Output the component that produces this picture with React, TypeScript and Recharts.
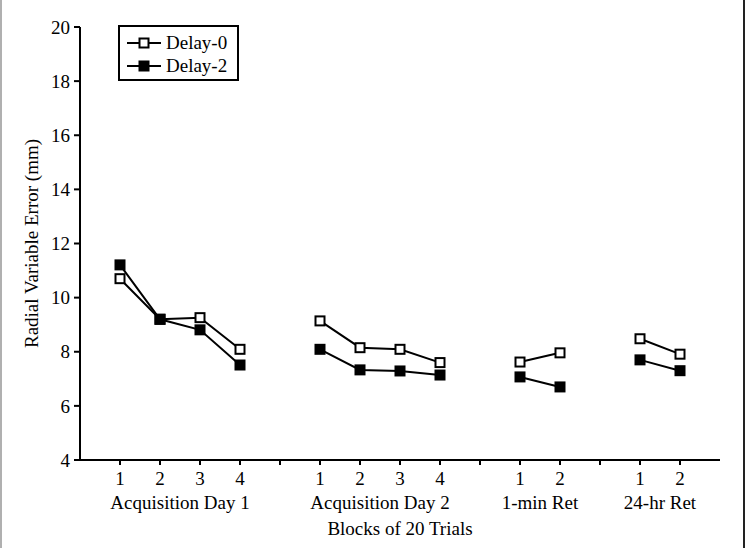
import React from 'react';
import { LineChart, Line, XAxis, YAxis, Legend } from 'recharts';

const groupNames = ['Acquisition Day 1', 'Acquisition Day 2', '1-min Ret', '24-hr Ret'];
const blockLabels = [['1', '2', '3', '4'], ['1', '2', '3', '4'], ['1', '2'], ['1', '2']];
const delay0 = [[10.7, 9.2, 9.26, 8.09], [9.14, 8.15, 8.09, 7.6], [7.62, 7.96], [8.48, 7.91]];
const delay2 = [[11.21, 9.2, 8.81, 7.51], [8.09, 7.33, 7.29, 7.14], [7.07, 6.7], [7.7, 7.3]];
const seriesNames = ['Delay-0', 'Delay-2'];
const yTicks = [4, 6, 8, 10, 12, 14, 16, 18, 20];

const FONT = '"Liberation Serif", "Times New Roman", serif';
const markerFills = ['#fff', '#000'];

type Row = { slot: number; label: string; d0: number | null; d2: number | null };

// one slot per block, with an empty slot between the groups
const rows: Row[] = [];
const groupCenters: number[] = [];
let slot = 1;
groupNames.forEach((_, g) => {
  const start = slot;
  blockLabels[g].forEach((b, i) => {
    rows.push({ slot, label: b, d0: delay0[g][i], d2: delay2[g][i] });
    slot++;
  });
  groupCenters.push((start + slot - 1) / 2);
  if (g < groupNames.length - 1) {
    rows.push({ slot, label: '', d0: null, d2: null });
    slot++;
  }
});
const slotTicks = rows.map(r => r.slot);
const lastSlot = slot;

const squareDot = (fill: string) => (props: any) => {
  const { cx, cy, key } = props;
  if (cx == null || cy == null || props.value == null) return <g key={key} />;
  return <rect key={key} x={cx - 4.5} y={cy - 4.5} width={9} height={9} fill={fill} stroke="#000" strokeWidth={2} />;
};

const LegendBox = () => (
  <div style={{ border: '2px solid #000', padding: '4px 10px 2px 7px', background: '#fff', fontFamily: FONT, fontSize: 19, color: '#000' }}>
    {seriesNames.map((n, i) => (
      <div key={n} style={{ display: 'flex', alignItems: 'center', height: 23 }}>
        <svg width={34} height={14}>
          <line x1={0} y1={7} x2={34} y2={7} stroke="#000" strokeWidth={2} />
          <rect x={12.5} y={2.5} width={9} height={9} fill={markerFills[i]} stroke="#000" strokeWidth={2} />
        </svg>
        <span style={{ marginLeft: 5 }}>{n}</span>
      </div>
    ))}
  </div>
);

const tickStyle = { fill: '#000', fontSize: 19, fontFamily: FONT };

export default function App() {
  return (
    <div style={{ position: 'absolute', left: 0, top: 0, width: 747, height: 548, background: '#fff' }}>
      <div style={{ position: 'absolute', left: 0, top: 0, width: 2, height: 548, background: '#b0b0b0' }} />
      <div style={{ position: 'absolute', left: 743, top: 0, width: 2, height: 548, background: '#222' }} />
      <LineChart width={747} height={548} data={rows} margin={{ top: 27, right: 27, bottom: 8, left: 0 }}>
        <XAxis
          dataKey="slot"
          type="number"
          domain={[0, lastSlot]}
          ticks={slotTicks}
          interval={0}
          tickFormatter={(v: number) => rows.find(r => r.slot === v)?.label ?? ''}
          height={30}
          tickSize={5}
          tickMargin={7}
          tick={tickStyle}
          axisLine={{ stroke: '#000', strokeWidth: 2 }}
          tickLine={{ stroke: '#000', strokeWidth: 2 }}
        />
        <XAxis
          xAxisId="group"
          dataKey="slot"
          type="number"
          domain={[0, lastSlot]}
          ticks={groupCenters}
          interval={0}
          tickFormatter={(v: number) => groupNames[groupCenters.indexOf(v)] ?? ''}
          height={50}
          tickSize={0}
          tickMargin={6}
          tick={tickStyle}
          axisLine={false}
          tickLine={false}
          label={{ value: 'Blocks of 20 Trials', position: 'insideBottom', offset: 5, style: { fill: '#000', fontSize: 19, fontFamily: FONT } }}
        />
        <YAxis
          domain={[4, 20]}
          ticks={yTicks}
          interval={0}
          width={80}
          tickSize={6}
          tickMargin={4}
          tick={tickStyle}
          axisLine={{ stroke: '#000', strokeWidth: 2 }}
          tickLine={{ stroke: '#000', strokeWidth: 2 }}
          label={{ value: 'Radial Variable Error (mm)', angle: -90, position: 'insideLeft', offset: 31, style: { textAnchor: 'middle', fill: '#000', fontSize: 19, fontFamily: FONT } }}
        />
        <Legend
          content={<LegendBox />}
          layout="horizontal"
          verticalAlign="middle"
          align="center"
          wrapperStyle={{ left: 118, top: 25, width: 'auto' }}
        />
        <Line dataKey="d0" name={seriesNames[0]} stroke="#000" strokeWidth={2} dot={squareDot(markerFills[0])} activeDot={false} connectNulls={false} isAnimationActive={false} />
        <Line dataKey="d2" name={seriesNames[1]} stroke="#000" strokeWidth={2} dot={squareDot(markerFills[1])} activeDot={false} connectNulls={false} isAnimationActive={false} />
      </LineChart>
    </div>
  );
}
